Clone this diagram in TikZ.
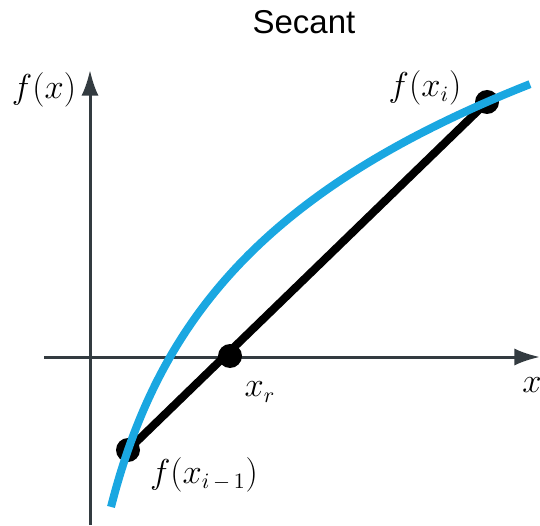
\documentclass[tikz,border=0pt]{standalone}
\usepackage{fontspec}
\setsansfont{Liberation Sans}
\usepackage{tikz}
\usetikzlibrary{arrows.meta,positioning}
\definecolor{curveblue}{HTML}{1AA7E1}
\definecolor{axisgray}{HTML}{333B40}

\begin{document}
\begin{tikzpicture}[
x=0.5pt,y=0.5pt,
axis/.style={draw=axisgray,line width=1.5pt,-{Latex[length=4.5mm,width=3mm]}},
secant/.style={draw=black,line width=4pt},
fcurve/.style={draw=curveblue,line width=4pt},
dot/.style={circle,fill=black,inner sep=0pt,minimum size=12pt},
lbl/.style={font=\fontsize{16}{18}\selectfont}
]
\useasboundingbox (0,0) rectangle (540,525);
\node[font=\sffamily\fontsize{16.5}{19}\selectfont] (title) at (304,503) {Secant};

% axes
\coordinate (yfoot) at (90,0);
\coordinate (ytip) at (90,455);
\coordinate (xfoot) at (44,168);
\coordinate (xtip) at (540,168);
\draw[axis] (yfoot)--(ytip);
\draw[axis] (xfoot)--(xtip);
\node[lbl] (ylab) at (44,435) {$f(x)$};
\node[lbl] (xlab) at (532,140) {$x$};

% secant through the two points
\node[dot] (flo) at (128,75) {};
\node[dot] (root) at (230,169) {};
\node[dot] (fhi) at (487,423) {};
\draw[secant] (flo.center)--(fhi.center);

\draw[fcurve] plot[domain=111:530,samples=90,smooth] (\x,{184.3*ln(\x-64)-691.5});

\node[lbl] (hilab) at (425,437) {$f(x_i)$};
\node[lbl] (rootlab) at (260,133) {$x_r$};
\node[lbl] (lolab) at (204,50) {$f(x_{i\,-\,1})$};
\end{tikzpicture}
\end{document}
